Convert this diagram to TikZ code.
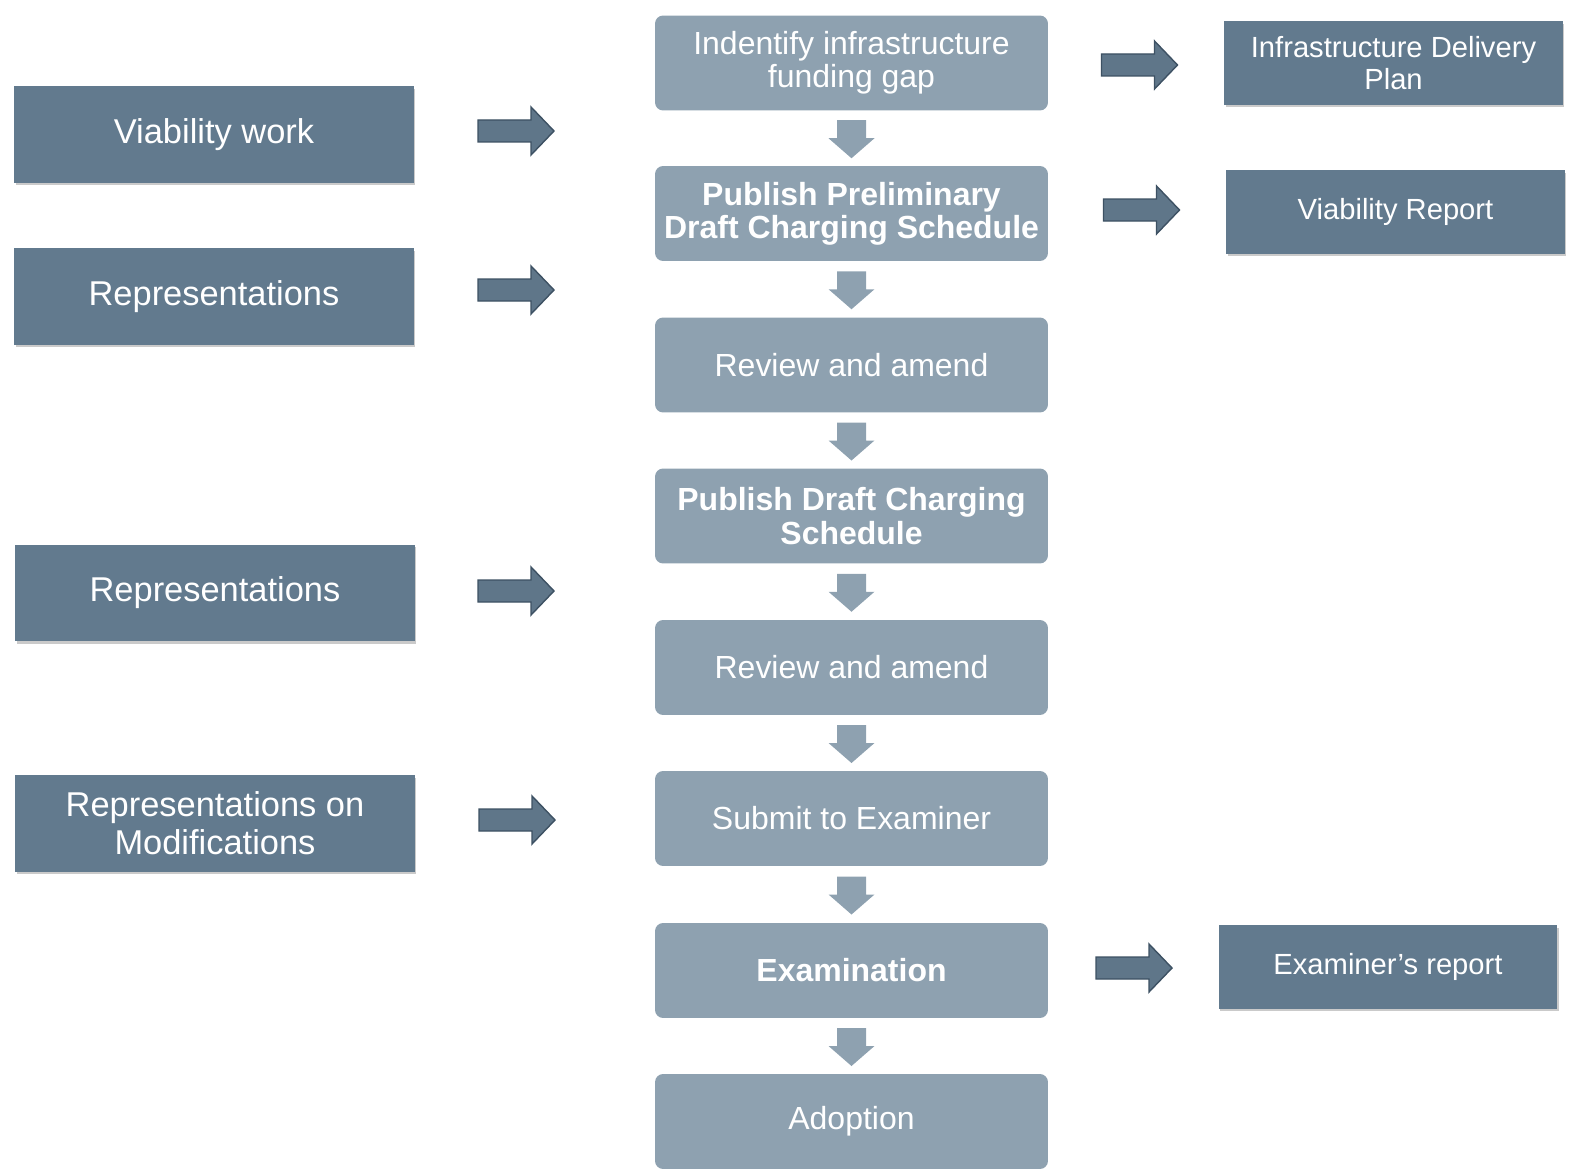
\documentclass[tikz,border=0pt]{standalone}
\usepackage{fontspec}
\setmainfont{Liberation Sans}
\usetikzlibrary{calc,shadows}

\definecolor{darkbox}{HTML}{627A8E}
\definecolor{lightbox}{HTML}{8EA1B0}
\definecolor{arrowline}{HTML}{3D5163}
\definecolor{arrowfill}{HTML}{5F7689}

\tikzset{
  sidebox/.style={fill=darkbox,text=white,align=center,inner sep=0pt,
    drop shadow={shadow xshift=0.03cm,shadow yshift=-0.05cm,fill=black!35,opacity=0.6}},
  leftbox/.style={sidebox,minimum width=8cm,minimum height=1.94cm,font=\fontsize{19.6}{21.5}\selectfont},
  rightbox/.style={sidebox,minimum width=6.78cm,minimum height=1.68cm,font=\fontsize{16.6}{18.5}\selectfont},
  stagebox/.style={fill=lightbox,text=white,align=center,inner sep=0pt,rounded corners=0.16cm,
    minimum width=7.86cm,minimum height=1.9cm,font=\fontsize{18.2}{19}\selectfont},
  rarrow/.pic={
    \draw[arrowline,fill=arrowfill,line width=0.8pt,line join=miter]
      (-38,-11) -- (15,-11) -- (15,-24) -- (38,0) -- (15,24) -- (15,11) -- (-38,11) -- cycle;
  },
  darrow/.pic={
    \fill[lightbox] (-14.5,-19) -- (14.5,-19) -- (14.5,-1) -- (23,-1) -- (0,19) -- (-23,-1) -- (-14.5,-1) -- cycle;
  }
}

\begin{document}
\begin{tikzpicture}[x=0.02cm,y=-0.02cm]
\useasboundingbox (0,0) rectangle (1573,1176);

% left column
\node[leftbox] (viab) at (214,134.5) {Viability work};
\node[leftbox] (rep1) at (214,296.5) {Representations};
\node[leftbox] (rep2) at (215,593) {Representations};
\node[leftbox] (repmod) at (215,823.5) {Representations on\\Modifications};

% main stages
\node[stagebox] (gap) at (851.5,63) {Indentify infrastructure\\funding gap};
\node[stagebox,font=\fontsize{18.2}{18.8}\selectfont\bfseries] (pdcs) at (851.5,213.5) {Publish Preliminary\\Draft Charging Schedule};
\node[stagebox] (rev1) at (851.5,365) {Review and amend};
\node[stagebox,font=\fontsize{18.2}{19.5}\selectfont\bfseries] (dcs) at (851.5,516) {Publish Draft Charging\\Schedule};
\node[stagebox] (rev2) at (851.5,667.5) {Review and amend};
\node[stagebox] (submit) at (851.5,818.5) {Submit to Examiner};
\node[stagebox,font=\fontsize{18.2}{19}\selectfont\bfseries] (exam) at (851.5,970.5) {Examination};
\node[stagebox] (adopt) at (851.5,1121.5) {Adoption};

% right column
\node[rightbox] (idp) at (1393.5,63) {Infrastructure Delivery\\Plan};
\node[rightbox] (vrep) at (1395.5,212) {Viability Report};
\node[rightbox] (erep) at (1388,967) {Examiner’s report};

% down arrows
\foreach \a/\b in {gap/pdcs,pdcs/rev1,rev1/dcs,dcs/rev2,rev2/submit,submit/exam,exam/adopt}
  \path ($(\a.south)!0.5!(\b.north)+(0,1)$) pic {darrow};

% side arrows
\foreach \x/\y in {516/131,516/290,516/591,517/820,1139.5/65,1141.5/210,1134/968}
  \path (\x,\y) pic {rarrow};
\end{tikzpicture}
\end{document}
